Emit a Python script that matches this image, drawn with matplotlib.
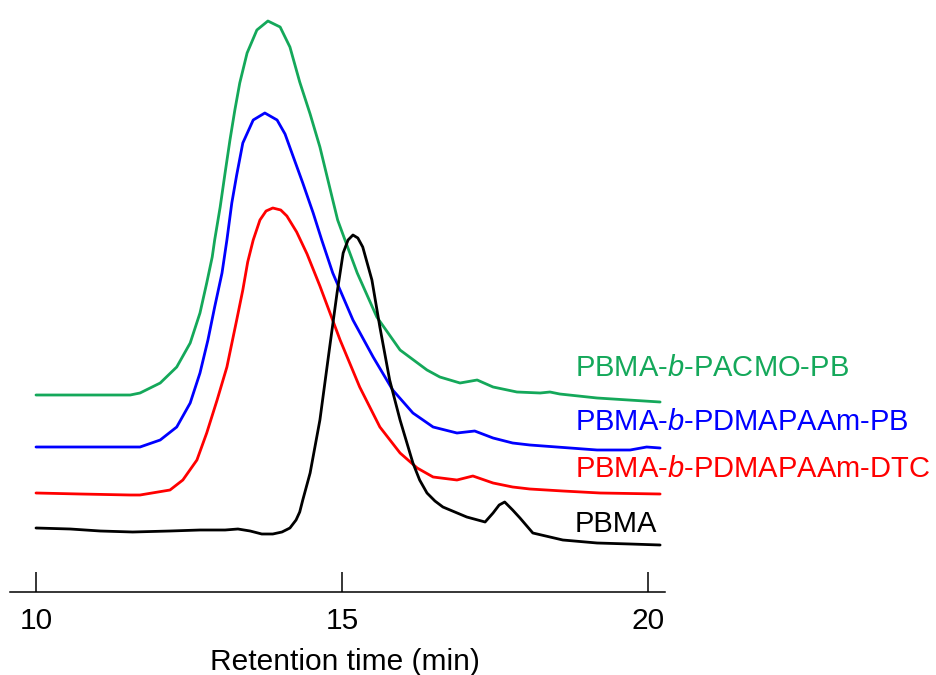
import matplotlib.pyplot as plt

plt.rcParams['font.family'] = ['Liberation Sans', 'DejaVu Sans']
plt.rcParams['mathtext.fontset'] = 'custom'
plt.rcParams['mathtext.rm'] = 'Liberation Sans'
plt.rcParams['mathtext.it'] = 'Liberation Sans:italic'

# GPC traces (retention time in min, stacked detector signal in a.u.)
pbma_t = [10.00, 10.56, 11.05, 11.58, 12.19, 12.68, 13.09, 13.30, 13.50, 13.69,
          13.87, 14.02, 14.15, 14.25, 14.31, 14.36, 14.48, 14.64, 14.80, 14.92,
          15.02, 15.10, 15.18, 15.26, 15.34, 15.49, 15.62, 15.78, 15.95, 16.16,
          16.27, 16.39, 16.52, 16.65, 17.04, 17.34, 17.47, 17.57, 17.66, 17.79,
          17.91, 18.12, 18.61, 19.17, 19.71, 20.20]
pbma_y = [0.64, 0.63, 0.61, 0.60, 0.61, 0.62, 0.62, 0.63, 0.61, 0.58,
          0.58, 0.60, 0.64, 0.72, 0.80, 0.92, 1.19, 1.72, 2.45, 2.99,
          3.39, 3.52, 3.57, 3.54, 3.45, 3.12, 2.65, 2.12, 1.72, 1.29,
          1.12, 0.99, 0.91, 0.85, 0.75, 0.70, 0.79, 0.87, 0.90, 0.82,
          0.74, 0.59, 0.52, 0.49, 0.48, 0.47]

dtc_t = [10.00, 10.72, 11.54, 11.70, 12.19, 12.40, 12.63, 12.79, 12.96, 13.12,
         13.28, 13.38, 13.46, 13.55, 13.66, 13.76, 13.87, 14.00, 14.10, 14.26,
         14.43, 14.64, 14.97, 15.29, 15.62, 15.95, 16.23, 16.49, 16.88, 17.14,
         17.47, 17.79, 18.07, 18.61, 19.22, 20.20]
dtc_y = [0.99, 0.98, 0.97, 0.97, 1.02, 1.12, 1.32, 1.59, 1.92, 2.25,
         2.72, 3.02, 3.30, 3.52, 3.72, 3.81, 3.84, 3.82, 3.76, 3.60,
         3.38, 3.06, 2.52, 2.05, 1.65, 1.39, 1.24, 1.15, 1.12, 1.16,
         1.09, 1.05, 1.03, 1.01, 0.99, 0.98]

pdma_t = [10.00, 10.88, 11.54, 11.70, 12.03, 12.30, 12.52, 12.68, 12.81, 12.92,
          13.04, 13.12, 13.20, 13.28, 13.38, 13.55, 13.74, 13.94, 14.07, 14.20,
          14.36, 14.53, 14.67, 14.85, 15.18, 15.51, 15.83, 16.16, 16.49, 16.88,
          17.17, 17.47, 17.79, 18.07, 19.17, 19.71, 19.98, 20.20]
pdma_y = [1.45, 1.45, 1.45, 1.45, 1.52, 1.65, 1.89, 2.19, 2.52, 2.85,
          3.19, 3.52, 3.89, 4.17, 4.49, 4.72, 4.79, 4.72, 4.58, 4.36,
          4.09, 3.79, 3.52, 3.19, 2.72, 2.35, 2.02, 1.79, 1.65, 1.59,
          1.61, 1.54, 1.49, 1.47, 1.42, 1.42, 1.45, 1.44]

acmo_t = [10.00, 10.88, 11.54, 11.70, 12.03, 12.30, 12.52, 12.68, 12.79, 12.88,
          12.92, 13.01, 13.09, 13.17, 13.25, 13.33, 13.45, 13.61, 13.79, 13.99,
          14.15, 14.31, 14.48, 14.64, 14.85, 14.93, 15.05, 15.25, 15.57, 15.95,
          16.39, 16.60, 16.93, 17.21, 17.47, 17.86, 18.24, 18.40, 18.56, 19.17,
          20.20]
acmo_y = [1.97, 1.97, 1.97, 1.99, 2.09, 2.25, 2.49, 2.79, 3.09, 3.35,
          3.52, 3.85, 4.19, 4.52, 4.82, 5.09, 5.39, 5.62, 5.71, 5.65,
          5.45, 5.10, 4.78, 4.45, 3.92, 3.72, 3.52, 3.19, 2.75, 2.42,
          2.22, 2.15, 2.09, 2.12, 2.05, 2.00, 1.99, 2.00, 1.98, 1.94,
          1.90]

names = ['PBMA-$\\mathit{b}$-PACMO-PB', 'PBMA-$\\mathit{b}$-PDMAPAAm-PB',
         'PBMA-$\\mathit{b}$-PDMAPAAm-DTC', 'PBMA']
name_y = [2.16, 1.62, 1.15, 0.60]
colors = ['#14a85a', '#0000ff', '#ff0000', '#000000']
series = [(acmo_t, acmo_y), (pdma_t, pdma_y), (dtc_t, dtc_y), (pbma_t, pbma_y)]

fig = plt.figure(figsize=(9.37, 6.75), dpi=100)
ax = fig.add_axes([0.01067, 0.12296, 0.69904, 0.87704])

for (t, y), c in zip(series, colors):
    ax.plot(t, y, color=c, lw=2.0, solid_joinstyle='round', solid_capstyle='round')

for name, yy, c in zip(names, name_y, colors):
    ax.text(18.81, yy, name, color=c, fontsize=21, ha='left', va='baseline')

ax.set_xlim(9.575, 20.28)
ax.set_ylim(0, 5.92)
ax.set_xticks([10, 15, 20])
ax.set_yticks([])
for side in ['left', 'right', 'top']:
    ax.spines[side].set_visible(False)
ax.spines['bottom'].set_linewidth(1.1)
ax.tick_params(axis='x', direction='in', length=14.4, width=1.1,
               labelsize=21.5, pad=10.5)
ax.set_xlabel('Retention time (min)', fontsize=21.5, labelpad=10, x=0.511)

fig.savefig('out.png', dpi=100)
